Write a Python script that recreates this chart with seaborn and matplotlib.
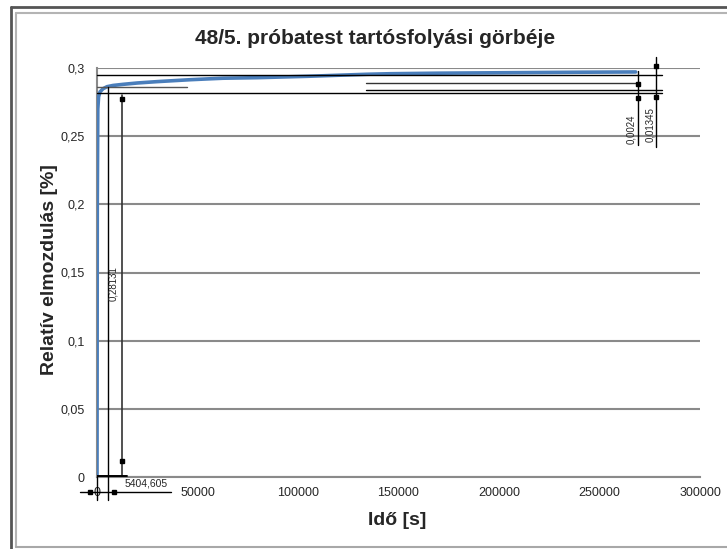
import matplotlib
matplotlib.use("Agg")
import matplotlib.pyplot as plt
from matplotlib.lines import Line2D
import seaborn as sns
import pandas as pd

# Creep curve of specimen 48/5: relative displacement [%] over time [s]
time_s = [0, 150, 400, 800, 1500, 3000, 5000, 8000, 12900, 20000, 29900, 38000,
          46300, 55000, 62700, 79600, 104500, 134300, 145800, 170000, 210000, 240000, 268000]
rel_disp = [0.0, 0.20, 0.270, 0.279, 0.2825, 0.2848, 0.2863, 0.2872, 0.2880, 0.2890, 0.2900, 0.2907,
            0.2914, 0.2920, 0.2925, 0.2929, 0.2939, 0.2954, 0.2958, 0.2962, 0.2966, 0.2969, 0.2971]

# Dimension values written on the drawing
dim_total = 0.28131
dim_creep = 0.01345
dim_small = 0.0024
dim_time = 5404.605

title = "48/5. próbatest tartósfolyási görbéje"
x_label = "Idő [s]"
y_label = "Relatív elmozdulás [%]"
x_ticks = [0, 50000, 100000, 150000, 200000, 250000, 300000]
x_tick_labels = ["0", "50000", "100000", "150000", "200000", "250000", "300000"]
y_ticks = [0, 0.05, 0.1, 0.15, 0.2, 0.25, 0.3]
y_tick_labels = ["0", "0,05", "0,1", "0,15", "0,2", "0,25", "0,3"]

sns.set_style("white")
plt.rcParams["font.family"] = ["Liberation Sans", "DejaVu Sans"]

fig = plt.figure(figsize=(7.27, 5.49), dpi=100)
ax = fig.add_axes([97 / 727, 1 - 477 / 549, 603 / 727, 409 / 549])

df = pd.DataFrame({"t": time_s, "v": rel_disp})
sns.lineplot(data=df, x="t", y="v", ax=ax, color="#4a7ebb", linewidth=2.6,
             zorder=5, estimator=None, sort=False)

ax.set_xlim(0, 300000)
ax.set_ylim(0, 0.3)
ax.set_xticks(x_ticks)
ax.set_xticklabels(x_tick_labels)
ax.set_yticks(y_ticks)
ax.set_yticklabels(y_tick_labels)
ax.tick_params(axis="both", direction="out", length=5, width=1.2, color="#868686",
               labelsize=9, pad=2)
ax.tick_params(axis="y", pad=4)
ax.yaxis.grid(True, color="#8a8a8a", linewidth=1.5)
ax.set_axisbelow(True)
for side in ("top", "right"):
    ax.spines[side].set_visible(False)
for side in ("left", "bottom"):
    ax.spines[side].set_color("#8a8a8a")
    ax.spines[side].set_linewidth(1.5)

ax.set_xlabel(x_label, fontsize=14, fontweight="bold")
ax.set_ylabel(y_label, fontsize=14, fontweight="bold")
ax.xaxis.set_label_coords(0.4975, -0.0856)
ax.yaxis.set_label_coords(-0.0644, 0.506)

fig.text(0.516, 1 - 39 / 549, title, fontsize=15, fontweight="bold",
         ha="center", va="center")

# Reference lines of the dimensioning
top_level = dim_total + dim_creep
mid_level = dim_total + dim_small
line_kw = dict(color="black", linewidth=1.0, zorder=6, clip_on=False)
ax.plot([0, 281000], [top_level, top_level], **line_kw)
ax.plot([0, 281000], [dim_total, dim_total], **line_kw)
ax.plot([134000, 281000], [mid_level, mid_level], **line_kw)
ax.plot([0, 45000], [0.2863, 0.2863], color="#555555", linewidth=1.0, zorder=6)
ax.plot([134000, 269000], [0.2893, 0.2893], color="#333333", linewidth=1.0, zorder=6)

sq = dict(marker="s", markersize=3.5, color="black", linestyle="none", zorder=7, clip_on=False)

# Vertical dimension: total displacement
x_dim = 12400
ax.plot([x_dim, x_dim], [0.0007, dim_total - 0.0010], color="#333333", linewidth=1.2,
        zorder=6)
ax.plot([x_dim, x_dim], [0.0118, dim_total - 0.0040], **sq)
ax.text(x_dim - 4300, 0.142, "0,28131", rotation=90, fontsize=7, ha="center",
        va="center", zorder=7)

# Horizontal dimension: initial time
ax.plot([0, 0], [0, -0.017], **line_kw)
ax.plot([dim_time, dim_time], [0.2863, -0.017], **line_kw)
ax.plot([0, 15000], [0.0008, 0.0008], color="black", linewidth=1.4, zorder=6)
ax.plot([-8500, 37000], [-0.011, -0.011], **line_kw)
ax.plot([-3500, dim_time + 3000], [-0.011, -0.011], **sq)
ax.text(13500, -0.0045, "5404,605", fontsize=7.5, ha="left", va="center", zorder=7)

# Vertical dimensions on the right
x_small = 269200
ax.plot([x_small, x_small], [0.2975, 0.2435], **line_kw)
ax.plot([x_small, x_small], [mid_level + 0.0044, dim_total - 0.0034], **sq)
ax.text(x_small - 3600, 0.2554, "0,0024", rotation=90, fontsize=7, ha="center",
        va="center", zorder=7)

x_creep = 278300
ax.plot([x_creep, x_creep], [0.3081, 0.2420], **line_kw)
ax.plot([x_creep, x_creep], [0.3015, dim_total - 0.0029], **sq)
ax.text(x_creep - 3300, 0.2585, "0,01345", rotation=90, fontsize=7, ha="center",
        va="center", zorder=7)

# Chart frame
fig.add_artist(Line2D([11 / 727, 11 / 727], [0, 1 - 6.5 / 549], color="#555555",
                      linewidth=2, transform=fig.transFigure))
fig.add_artist(Line2D([11 / 727, 1], [1 - 6.5 / 549, 1 - 6.5 / 549], color="#555555",
                      linewidth=2, transform=fig.transFigure))
fig.add_artist(Line2D([15.5 / 727, 15.5 / 727], [1 - 546.5 / 549, 1 - 12.5 / 549],
                      color="#b4b4b4", linewidth=1.5, transform=fig.transFigure))
fig.add_artist(Line2D([15.5 / 727, 1], [1 - 12.5 / 549, 1 - 12.5 / 549],
                      color="#b4b4b4", linewidth=1.5, transform=fig.transFigure))
fig.add_artist(Line2D([15.5 / 727, 1], [1 - 546.5 / 549, 1 - 546.5 / 549],
                      color="#a8a8a8", linewidth=1.5, transform=fig.transFigure))

fig.savefig("out.png", dpi=100)
